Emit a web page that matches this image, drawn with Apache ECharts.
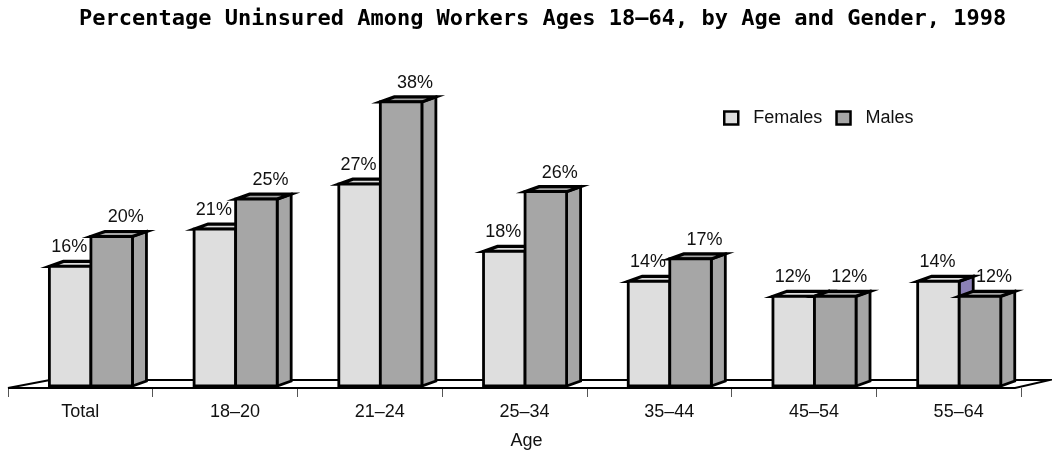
<!DOCTYPE html>
<html>
<head>
<meta charset="utf-8">
<script src="https://cdn.jsdelivr.net/npm/echarts@6/dist/echarts.min.js"></script>
<style>
  html, body { margin: 0; padding: 0; background: #fff; }
  #chart { width: 1052px; height: 455px; }
</style>
</head>
<body>
<div id="chart"></div>
<script>
// Uninsured share of workers (percent), 1998
const categories = ['Total', '18–20', '21–24', '25–34', '35–44', '45–54', '55–64'];
const females = [16, 21, 27, 18, 14, 12, 14];
const males = [20, 25, 38, 26, 17, 12, 12];

const LABEL_FONT = "'Liberation Sans Narrow', 'Liberation Sans', Arial, sans-serif";
const FONT_SIZE = 18;

// Pseudo-3D look: depth offsets for bar sides and the floor slab
const DEPTH_X = 14, DEPTH_Y = -5;
const BAR_FRAC = 0.287;   // bar front width as share of the category band
const SHIFT_FRAC = 0.073; // cluster pushed back/right onto the floor

const palettes = [
  { front: '#dedede', top: '#dedede', side: '#8b80b6' },  // Females
  { front: '#a6a6a6', top: '#a6a6a6', side: '#a6a6a6' }   // Males
];

function makeBarRenderer(which) {
  const pal = palettes[which];
  return function (params, api) {
    const ci = api.value(0);
    const v = api.value(1);
    const base = api.coord([ci, 0]);
    const topPt = api.coord([ci, v]);
    const band = api.size([1, 0])[0];
    const w = band * BAR_FRAC;
    const cx = base[0] + band * SHIFT_FRAC;
    const x0 = which === 0 ? cx - w : cx;
    const x1 = x0 + w;
    const yb = base[1] - 2;
    const yt = topPt[1] - 2;
    const stroke = { stroke: '#000', lineWidth: 2.8, lineJoin: 'miter' };
    const lx = which === 0 ? (x0 + x1) / 2 - 1 : (x0 + x1) / 2 + 14;
    return {
      type: 'group',
      children: [
        {
          type: 'polygon',
          shape: { points: [[x1, yb], [x1, yt], [x1 + DEPTH_X, yt + DEPTH_Y], [x1 + DEPTH_X, yb + DEPTH_Y]] },
          style: Object.assign({ fill: pal.side }, stroke)
        },
        {
          type: 'polygon',
          shape: { points: [[x0, yt], [x1, yt], [x1 + DEPTH_X, yt + DEPTH_Y], [x0 + DEPTH_X, yt + DEPTH_Y]] },
          style: { fill: pal.top, stroke: '#000', lineWidth: 3.2, lineJoin: 'miter' }
        },
        {
          type: 'rect',
          shape: { x: x0, y: yt, width: w, height: yb - yt },
          style: Object.assign({ fill: pal.front }, stroke)
        },
        {
          type: 'text',
          x: lx,
          y: yt - 19,
          style: {
            text: v + '%',
            fill: '#111',
            font: FONT_SIZE + 'px ' + LABEL_FONT,
            align: 'center',
            verticalAlign: 'middle'
          }
        }
      ]
    };
  };
}

// Floor slab under the clusters
function renderFloor(params, api) {
  const cs = params.coordSys;
  const X0 = cs.x, X1 = cs.x + cs.width;
  const Y = cs.y + cs.height;
  return {
    type: 'polygon',
    shape: { points: [[X0, Y], [X1 - 6, Y], [X1 + 29, Y - 8], [X0 + 42, Y - 8]] },
    style: { fill: '#fff', stroke: '#000', lineWidth: 2 }
  };
}

const chart = echarts.init(document.getElementById('chart'), null, { renderer: 'canvas' });

chart.setOption({
  animation: false,
  backgroundColor: '#fff',
  title: {
    text: 'Percentage Uninsured Among Workers Ages 18–64, by Age and Gender, 1998',
    left: 79,
    top: 8,
    padding: 0,
    textStyle: {
      fontFamily: "'DejaVu Sans Mono', monospace",
      fontWeight: 'bold',
      fontSize: 22,
      color: '#000'
    }
  },
  legend: {
    left: 723,
    top: 109,
    padding: 0,
    icon: 'rect',
    itemWidth: 14,
    itemHeight: 13,
    itemGap: 13,
    textStyle: { fontFamily: LABEL_FONT, fontSize: FONT_SIZE, color: '#111', padding: [0, 0, 0, 10] },
    data: [
      { name: 'Females', itemStyle: { color: '#dedede', borderColor: '#000', borderWidth: 2.5 } },
      { name: 'Males', itemStyle: { color: '#a6a6a6', borderColor: '#000', borderWidth: 2.5 } }
    ]
  },
  grid: { left: 8, right: 31, top: 89, bottom: 66 },
  xAxis: {
    type: 'category',
    data: categories,
    name: 'Age',
    nameLocation: 'middle',
    nameGap: 44,
    nameTextStyle: { fontFamily: LABEL_FONT, fontSize: FONT_SIZE, color: '#111', padding: [0, 0, 0, 24] },
    axisLine: { show: false },
    axisTick: { show: true, length: 9, lineStyle: { color: '#555', width: 1 } },
    axisLabel: {
      fontFamily: LABEL_FONT,
      fontSize: FONT_SIZE,
      color: '#111',
      margin: 15,
      formatter: function (val, idx) { return idx === 0 ? val : '{s|' + val + '}'; },
      rich: { s: { fontFamily: LABEL_FONT, fontSize: FONT_SIZE, color: '#111', padding: [0, 0, 0, 20] } }
    }
  },
  yAxis: {
    type: 'value',
    min: 0,
    max: 40,
    show: false
  },
  series: [
    {
      type: 'custom',
      name: 'floor',
      silent: true,
      renderItem: renderFloor,
      data: [[0, 0]],
      z: 1
    },
    {
      type: 'custom',
      name: 'Females',
      renderItem: makeBarRenderer(0),
      itemStyle: { color: '#dedede', borderColor: '#000', borderWidth: 2.5 },
      encode: { x: 0, y: 1 },
      data: females.map((v, i) => [i, v]),
      z: 2
    },
    {
      type: 'custom',
      name: 'Males',
      renderItem: makeBarRenderer(1),
      itemStyle: { color: '#a6a6a6', borderColor: '#000', borderWidth: 2.5 },
      encode: { x: 0, y: 1 },
      data: males.map((v, i) => [i, v]),
      z: 3
    }
  ]
});
</script>
</body>
</html>
